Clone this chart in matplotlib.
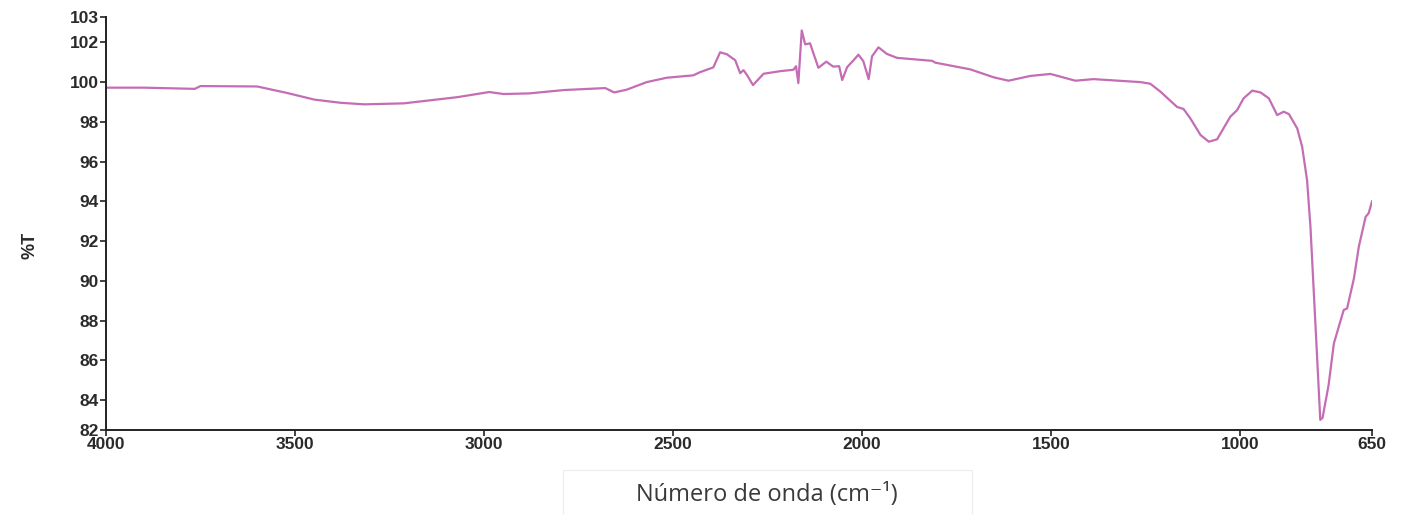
# Espectro FTIR: %T contra número de onda
import matplotlib
matplotlib.use('Agg')
import matplotlib.pyplot as plt
from matplotlib.patches import Rectangle

# Data
wavenumber = [4000, 3900, 3765, 3750, 3600, 3520, 3449, 3380, 3317, 3212,
              3071, 2986, 2948, 2881, 2788, 2679, 2655, 2622, 2569, 2516,
              2446, 2428, 2393, 2375, 2357, 2335, 2322, 2313, 2304, 2288,
              2260, 2216, 2181, 2174, 2168, 2159, 2150, 2137, 2129, 2115,
              2094, 2076, 2060, 2052, 2039, 2022, 2009, 1996, 1982, 1973,
              1956, 1934, 1907, 1814, 1806, 1713, 1651, 1612, 1554, 1501,
              1435, 1387, 1263, 1237, 1210, 1166, 1149, 1131, 1104, 1082,
              1060, 1025, 1007, 990, 967, 945, 923, 901, 884, 870,
              848, 835, 822, 813, 804, 795, 787, 781, 765, 751,
              725, 716, 698, 685, 667, 659, 650]
transmittance = [99.72, 99.72, 99.66, 99.80, 99.78, 99.45, 99.12, 98.96, 98.88, 98.93,
                 99.24, 99.50, 99.40, 99.43, 99.60, 99.70, 99.48, 99.62, 100.00, 100.22,
                 100.34, 100.50, 100.74, 101.50, 101.40, 101.10, 100.45, 100.60, 100.36, 99.85,
                 100.42, 100.55, 100.62, 100.80, 99.95, 102.60, 101.90, 101.95, 101.50, 100.72,
                 101.03, 100.78, 100.80, 100.10, 100.75, 101.10, 101.38, 101.05, 100.15, 101.30,
                 101.75, 101.42, 101.22, 101.07, 100.98, 100.64, 100.24, 100.07, 100.31, 100.41,
                 100.07, 100.15, 100.00, 99.92, 99.52, 98.75, 98.65, 98.18, 97.34, 97.00,
                 97.12, 98.26, 98.59, 99.18, 99.57, 99.48, 99.18, 98.34, 98.51, 98.39,
                 97.67, 96.75, 95.07, 92.72, 89.37, 86.01, 83.00, 83.10, 84.75, 86.85,
                 88.53, 88.61, 90.12, 91.72, 93.22, 93.40, 94.00]

x_ticks = [4000, 3500, 3000, 2500, 2000, 1500, 1000, 650]
y_ticks = [82.49, 84, 86, 88, 90, 92, 94, 96, 98, 100, 102, 103.26]
y_labels = ['82', '84', '86', '88', '90', '92', '94', '96', '98', '100', '102', '103']

plt.rcParams['font.family'] = ['Liberation Sans', 'DejaVu Sans']

fig = plt.figure(figsize=(14.11, 5.14), dpi=100)
ax = fig.add_axes([0.0751, 0.1634, 0.8973, 0.8029])

ax.plot(wavenumber, transmittance, color='#c46db4', lw=1.6)

ax.set_xlim(4000, 650)
ax.set_ylim(82.49, 103.26)
ax.set_xticks(x_ticks)
ax.set_xticklabels([str(t) for t in x_ticks])
ax.set_yticks(y_ticks)
ax.set_yticklabels(y_labels)

for side in ['top', 'right']:
    ax.spines[side].set_visible(False)
for side in ['left', 'bottom']:
    ax.spines[side].set_linewidth(1.4)
    ax.spines[side].set_color('#222222')

ax.tick_params(axis='both', direction='out', length=4, width=1.2, color='#222222',
               labelsize=12.5, labelcolor='#2a2a2a', pad=1)
for lab in ax.get_xticklabels() + ax.get_yticklabels():
    lab.set_fontweight('bold')

# %T label
fig.text(30 / 1411, 1 - 245 / 514, '%T', rotation=90, ha='center', va='center',
         fontsize=13, fontweight='bold', color='#2a2a2a')

# x label in its own faint box
fig.patches.append(Rectangle((563 / 1411, 0), 409 / 1411, 44 / 514,
                             transform=fig.transFigure, fc='white',
                             ec='#ececec', lw=0.8))
fig.text(767 / 1411, 1 - 495 / 514, 'Número de onda (cm⁻¹)', ha='center', va='center',
         fontsize=17, color='#3a3a3a', family=['Open Sans', 'DejaVu Sans'])

fig.savefig('out.png', dpi=100)
